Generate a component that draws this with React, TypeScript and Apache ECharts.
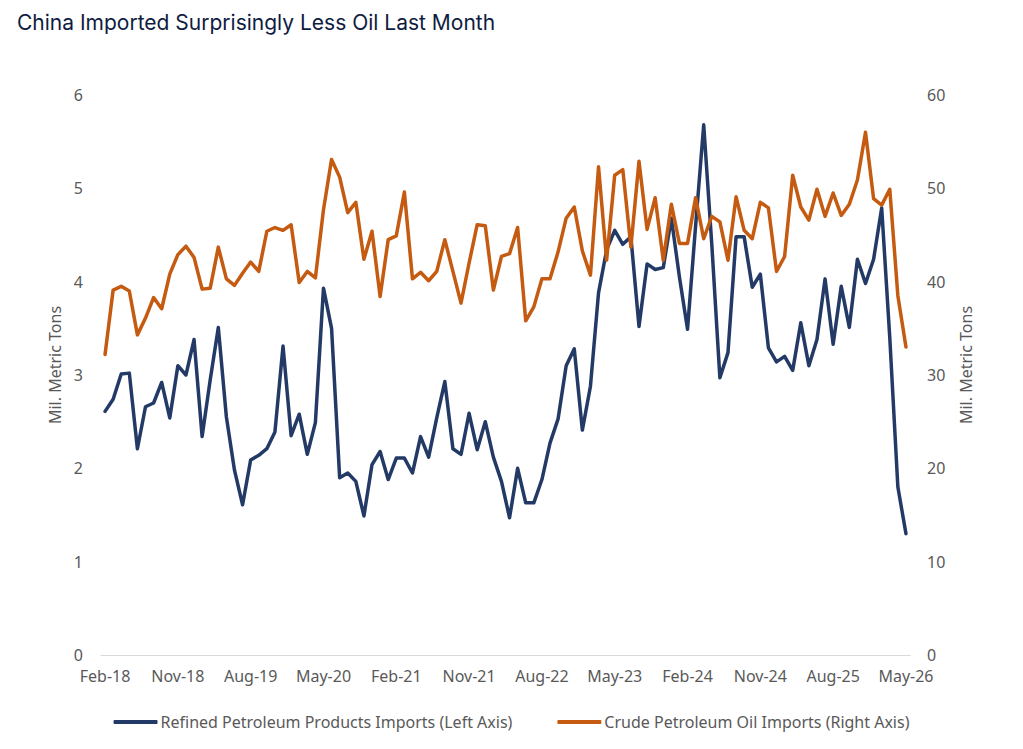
import React, { useEffect, useRef } from "react";
import * as echarts from "echarts";

// Monthly categories Feb-18 … May-26
const MONTHS = ["Jan", "Feb", "Mar", "Apr", "May", "Jun", "Jul", "Aug", "Sep", "Oct", "Nov", "Dec"];
const categories: string[] = [];
for (let k = 0; k < 100; k++) {
  const m = (1 + k) % 12;
  const y = 18 + Math.floor((1 + k) / 12);
  categories.push(`${MONTHS[m]}-${y}`);
}

// Refined petroleum products imports, million metric tons (left axis)
const refinedImports = [
  2.61, 2.74, 3.01, 3.02, 2.21, 2.66, 2.70, 2.92, 2.54, 3.10,
  3.00, 3.38, 2.34, 2.95, 3.51, 2.55, 1.98, 1.61, 2.09, 2.14,
  2.21, 2.39, 3.31, 2.35, 2.58, 2.15, 2.49, 3.93, 3.50, 1.90,
  1.95, 1.86, 1.49, 2.04, 2.18, 1.88, 2.11, 2.11, 1.95, 2.34,
  2.12, 2.54, 2.93, 2.21, 2.15, 2.59, 2.20, 2.50, 2.12, 1.86,
  1.47, 2.00, 1.63, 1.63, 1.88, 2.27, 2.53, 3.10, 3.28, 2.41,
  2.88, 3.88, 4.34, 4.55, 4.40, 4.48, 3.52, 4.19, 4.13, 4.15,
  4.68, 4.05, 3.49, 4.60, 5.68, 4.40, 2.97, 3.24, 4.48, 4.48,
  3.94, 4.08, 3.29, 3.14, 3.20, 3.05, 3.56, 3.10, 3.38, 4.03,
  3.33, 3.95, 3.51, 4.24, 3.98, 4.24, 4.79, 3.40, 1.80, 1.30,
];

// Crude petroleum oil imports, million metric tons (right axis)
const crudeImports = [
  32.2, 39.1, 39.5, 39.0, 34.3, 36.1, 38.3, 37.1, 40.8, 42.9,
  43.8, 42.6, 39.2, 39.3, 43.7, 40.3, 39.6, 40.9, 42.1, 41.1,
  45.4, 45.8, 45.5, 46.1, 39.9, 41.1, 40.4, 47.7, 53.1, 51.2,
  47.4, 48.5, 42.4, 45.4, 38.4, 44.5, 44.9, 49.6, 40.3, 41.0,
  40.1, 41.1, 44.5, 41.1, 37.7, 42.0, 46.1, 46.0, 39.1, 42.7,
  43.0, 45.8, 35.8, 37.3, 40.3, 40.3, 43.2, 46.8, 48.0, 43.3,
  40.7, 52.3, 42.3, 51.4, 52.0, 43.7, 52.9, 45.6, 49.0, 42.3,
  48.3, 44.1, 44.1, 49.0, 44.6, 47.0, 46.4, 42.3, 49.1, 45.5,
  44.6, 48.5, 47.9, 41.1, 42.7, 51.4, 48.0, 46.6, 49.9, 47.0,
  49.5, 47.1, 48.3, 50.9, 56.0, 48.9, 48.2, 49.9, 38.5, 33.0,
];

const REFINED_NAME = "Refined Petroleum Products Imports (Left Axis)";
const CRUDE_NAME = "Crude Petroleum Oil Imports (Right Axis)";

const NAVY = "#243a66";
const ORANGE = "#c55a11";
const TEXT = "#595959";
const FONT = "'Noto Sans', 'Open Sans', sans-serif";

export default function App() {
  const ref = useRef<HTMLDivElement>(null);

  useEffect(() => {
    if (!ref.current) return;
    const chart = echarts.init(ref.current, null, { renderer: "svg" });
    chart.setOption({
      animation: false,
      backgroundColor: "#ffffff",
      textStyle: { fontFamily: FONT },
      title: {
        text: "China Imported Surprisingly Less Oil Last Month",
        left: 12,
        top: 7,
        textStyle: {
          fontFamily: "Inter, 'Noto Sans', sans-serif",
          fontWeight: "normal",
          fontSize: 21,
          color: "#0e1c3f",
        },
      },
      legend: {
        bottom: 14,
        left: "center",
        itemGap: 45,
        itemWidth: 44,
        itemHeight: 4,
        icon: "roundRect",
        textStyle: { fontSize: 16, color: TEXT, fontFamily: FONT, padding: [0, 0, 0, -2] },
        data: [REFINED_NAME, CRUDE_NAME],
      },
      grid: { left: 101, right: 113, top: 95, bottom: 94, containLabel: false },
      xAxis: {
        type: "category",
        data: categories,
        boundaryGap: true,
        axisLine: { lineStyle: { color: "#d9d9d9", width: 1 } },
        axisTick: { show: false },
        axisLabel: { interval: 8, color: TEXT, fontSize: 16, margin: 13, fontFamily: FONT },
      },
      yAxis: [
        {
          type: "value",
          min: 0,
          max: 6,
          interval: 1,
          name: "Mil. Metric Tons",
          nameLocation: "middle",
          nameRotate: 90,
          nameGap: 36,
          nameTextStyle: { color: TEXT, fontSize: 16, fontFamily: FONT, padding: [0, 0, 0, 20] },
          splitLine: { show: false },
          axisLine: { show: false },
          axisTick: { show: false },
          axisLabel: { color: TEXT, fontSize: 16, margin: 18, fontFamily: FONT },
        },
        {
          type: "value",
          min: 0,
          max: 60,
          interval: 10,
          position: "right",
          name: "Mil. Metric Tons",
          nameLocation: "middle",
          nameRotate: 90,
          nameGap: 48,
          nameTextStyle: { color: TEXT, fontSize: 16, fontFamily: FONT, padding: [0, 0, 0, 20] },
          splitLine: { show: false },
          axisLine: { show: false },
          axisTick: { show: false },
          axisLabel: { color: TEXT, fontSize: 16, margin: 17, fontFamily: FONT },
        },
      ],
      series: [
        {
          name: REFINED_NAME,
          type: "line",
          yAxisIndex: 0,
          data: refinedImports,
          symbol: "none",
          itemStyle: { color: NAVY },
          lineStyle: { color: NAVY, width: 3.5, join: "round", cap: "round" },
        },
        {
          name: CRUDE_NAME,
          type: "line",
          yAxisIndex: 1,
          data: crudeImports,
          symbol: "none",
          itemStyle: { color: ORANGE },
          lineStyle: { color: ORANGE, width: 3.5, join: "round", cap: "round" },
        },
      ],
    });
    return () => chart.dispose();
  }, []);

  return (
    <div
      ref={ref}
      style={{ position: "fixed", left: 0, top: 0, width: 1023, height: 749, background: "#fff" }}
    />
  );
}
